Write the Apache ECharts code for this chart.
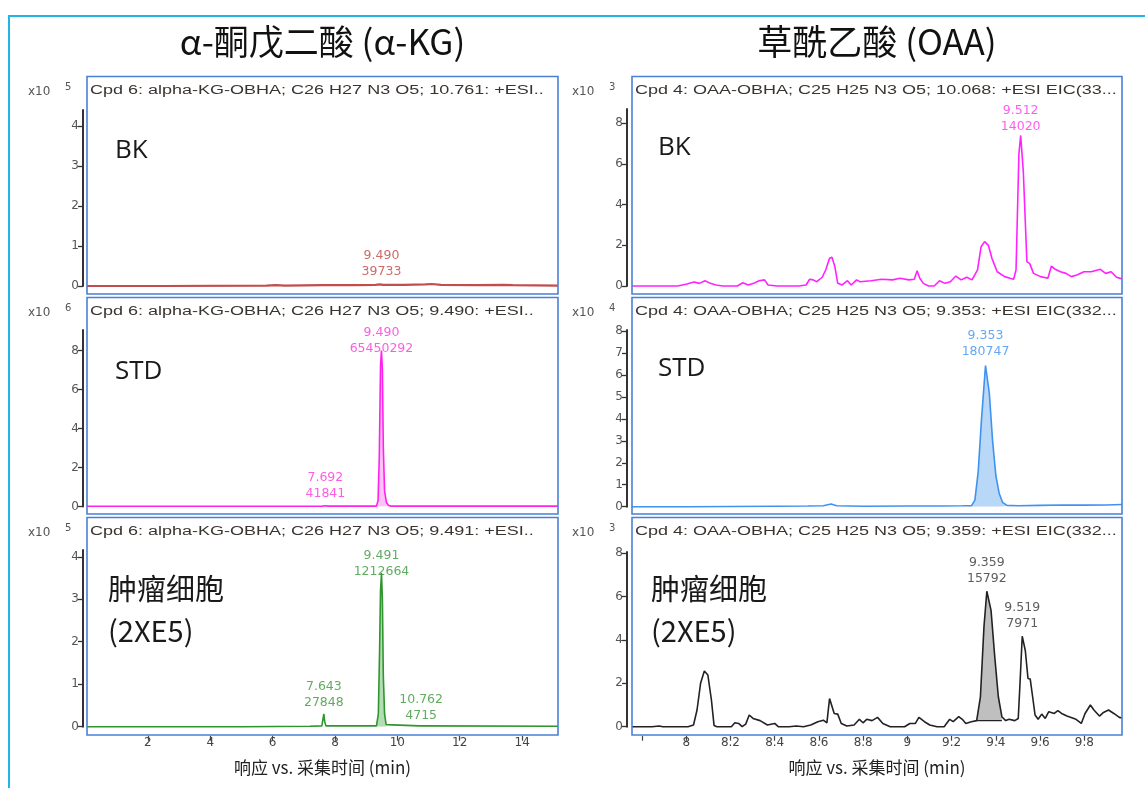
<!DOCTYPE html>
<html>
<head>
<meta charset="utf-8">
<title>α-KG / OAA EIC</title>
<script src="https://cdn.jsdelivr.net/npm/echarts@6/dist/echarts.min.js"></script>
<style>
  html, body { margin: 0; padding: 0; background: #fff; }
  #chart { width: 1145px; height: 788px; }
</style>
</head>
<body>
<div id="chart"></div>
<script>
// ---- data (x = min, y = counts in units of the panel's x10^n) ----
const columnTitles = ['α-酮戊二酸 (α-KG)', '草酰乙酸 (OAA)'];
const xAxisTitle = '响应 vs. 采集时间 (min)';
const sampleTags = ['BK', 'STD', '肿瘤细胞\n(2XE5)'];

const headers = [
  'Cpd 6: alpha-KG-OBHA; C26 H27 N3 O5; 10.761: +ESI..',
  'Cpd 4: OAA-OBHA; C25 H25 N3 O5; 10.068: +ESI EIC(33...',
  'Cpd 6: alpha-KG-OBHA; C26 H27 N3 O5; 9.490: +ESI..',
  'Cpd 4: OAA-OBHA; C25 H25 N3 O5; 9.353: +ESI EIC(332...',
  'Cpd 6: alpha-KG-OBHA; C26 H27 N3 O5; 9.491: +ESI..',
  'Cpd 4: OAA-OBHA; C25 H25 N3 O5; 9.359: +ESI EIC(332...'
];
const exponents = ['5', '3', '6', '4', '5', '3'];

const kgTicksX = [2, 4, 6, 8, 10, 12, 14];
const oaaTicksX = [7.8, 8, 8.2, 8.4, 8.6, 8.8, 9, 9.2, 9.4, 9.6, 9.8];
const oaaLabelsX = [8, 8.2, 8.4, 8.6, 8.8, 9, 9.2, 9.4, 9.6, 9.8];
const kgTicksY1 = [0, 1, 2, 3, 4];
const kgTicksY2 = [0, 2, 4, 6, 8];
const kgTicksY3 = [0, 1, 2, 3, 4];
const oaaTicksY1 = [0, 2, 4, 6, 8];
const oaaTicksY2 = [0, 1, 2, 3, 4, 5, 6, 7, 8];
const oaaTicksY3 = [0, 2, 4, 6, 8];

const kgBK = [[0.05,0],[2.5,0],[5.8,0.01],[6.1,0.02],[6.4,0.01],[7.6,0.02],[8.6,0.02],[9.3,0.03],[9.44,0.04],
  [9.49,0.08],[9.54,0.03],[10.2,0.03],[10.9,0.04],[11.1,0.05],[11.4,0.03],[12.6,0.02],[13.4,0.03],[13.7,0.02],[15.15,0.01]];
const kgSTD = [[0.05,0.01],[4,0.01],[7.6,0.02],[7.692,0.04],[7.78,0.02],[9.33,0.02],[9.38,0.3],[9.42,2.5],[9.46,7.2],
  [9.49,8.0],[9.52,7.0],[9.55,3.0],[9.59,0.8],[9.65,0.2],[9.72,0.05],[9.8,0.02],[15.15,0.02]];
const kgTumor = [[0.05,0],[5,0],[7.2,0.01],[7.58,0.02],[7.62,0.2],[7.643,0.3],[7.67,0.12],[7.71,0.02],[9.33,0.02],
  [9.39,0.3],[9.43,1.8],[9.46,3.2],[9.491,3.62],[9.52,3.0],[9.55,1.2],[9.59,0.3],[9.64,0.05],[10.7,0.02],
  [10.762,0.04],[10.83,0.02],[15.15,0.01]];

const oaaBK = [[7.755,0],[7.962,0],[8.003,0.1],[8.036,0.2],[8.060,0.13],[8.085,0.26],[8.109,0.13],[8.134,0.05],
  [8.166,0],[8.199,0],[8.231,0],[8.256,0.16],[8.280,0.05],[8.305,0.13],[8.329,0.26],[8.354,0.3],[8.370,0.05],
  [8.411,0],[8.460,0],[8.509,0],[8.542,0.05],[8.558,0.33],[8.574,0.3],[8.590,0.21],[8.615,0.43],[8.631,0.8],
  [8.648,1.36],[8.659,1.41],[8.672,0.95],[8.685,0.13],[8.705,0.05],[8.729,0.26],[8.746,0.05],[8.770,0.3],
  [8.786,0.21],[8.835,0.26],[8.884,0.33],[8.933,0.3],[8.966,0.38],[9.007,0.3],[9.031,0.33],[9.044,0.75],
  [9.056,0.38],[9.072,0.13],[9.096,0],[9.121,0],[9.145,0.26],[9.170,0.13],[9.194,0.21],[9.219,0.49],[9.243,0.3],
  [9.268,0.43],[9.292,0.3],[9.317,0.79],[9.333,1.93],[9.349,2.18],[9.366,2.0],[9.382,1.36],[9.406,0.7],
  [9.439,0.46],[9.464,0.38],[9.480,0.33],[9.491,0.79],[9.504,6.5],[9.512,7.4],[9.524,5.6],[9.540,1.2],
  [9.553,1.1],[9.570,0.62],[9.602,0.46],[9.635,0.38],[9.651,0.98],[9.668,0.82],[9.692,0.7],[9.717,0.62],
  [9.741,0.46],[9.766,0.54],[9.798,0.7],[9.831,0.7],[9.872,0.82],[9.896,0.62],[9.921,0.7],[9.945,0.43],[9.970,0.35]];
const oaaSTD = [[7.755,0],[8.0,0],[8.2,0.01],[8.4,0.02],[8.55,0.03],[8.62,0.04],[8.655,0.12],[8.68,0.04],[8.8,0.02],
  [9.0,0.03],[9.15,0.03],[9.25,0.04],[9.29,0.05],[9.305,0.3],[9.32,1.6],[9.335,4.0],[9.353,6.43],[9.37,5.2],
  [9.385,3.0],[9.40,1.4],[9.415,0.6],[9.43,0.2],[9.45,0.06],[9.5,0.04],[9.6,0.06],[9.7,0.08],[9.8,0.07],[9.9,0.08],[9.97,0.1]];
const oaaTumor = [[7.755,0],[7.845,0],[7.878,0.03],[7.894,0],[8.008,0],[8.033,0.08],[8.049,0.77],[8.065,2.0],
  [8.082,2.57],[8.098,2.38],[8.114,1.23],[8.126,0.05],[8.139,0],[8.204,0],[8.220,0.18],[8.237,0.15],[8.253,0],
  [8.269,0.12],[8.285,0.54],[8.302,0.38],[8.334,0.28],[8.367,0.08],[8.400,0.15],[8.416,0],[8.465,0],[8.498,0.03],
  [8.530,0],[8.563,0.08],[8.595,0.23],[8.620,0.3],[8.636,0.18],[8.648,1.3],[8.657,1.3],[8.669,0.61],[8.685,0.58],
  [8.701,0.15],[8.726,0.03],[8.759,0.08],[8.783,0.34],[8.799,0.18],[8.816,0.34],[8.840,0.28],[8.865,0.43],
  [8.889,0.15],[8.922,0],[8.954,0],[8.987,0],[9.011,0.15],[9.036,0.15],[9.052,0.43],[9.077,0.23],[9.101,0.08],
  [9.134,0],[9.166,0],[9.191,0.34],[9.207,0.23],[9.232,0.46],[9.248,0.34],[9.264,0.15],[9.289,0.23],[9.313,0.28],
  [9.330,1.38],[9.346,4.6],[9.359,6.24],[9.378,5.36],[9.395,3.2],[9.411,1.38],[9.427,0.46],[9.444,0.28],
  [9.460,0.34],[9.485,0.28],[9.501,0.38],[9.509,2.0],[9.519,4.17],[9.533,3.5],[9.545,2.22],[9.555,2.2],
  [9.566,1.38],[9.577,0.54],[9.591,0.34],[9.607,0.58],[9.623,0.38],[9.639,0.69],[9.664,0.61],[9.680,0.74],
  [9.697,0.61],[9.721,0.49],[9.762,0.34],[9.786,0.15],[9.803,0.61],[9.827,1.0],[9.843,0.77],[9.868,0.49],
  [9.884,0.64],[9.909,0.77],[9.933,0.61],[9.958,0.43],[9.97,0.4]];

// peaks: [rt, apex, area]
const kgBKPeaks = [[9.490, 0.08, 39733]];
const kgSTDPeaks = [[7.692, 0.04, 41841], [9.490, 8.0, 65450292]];
const kgTumorPeaks = [[7.643, 0.3, 27848], [9.491, 3.62, 1212664], [10.762, 0.04, 4715]];
const oaaBKPeaks = [[9.512, 7.4, 14020]];
const oaaSTDPeaks = [[9.353, 6.43, 180747]];
const oaaTumorPeaks = [[9.359, 6.24, 15792], [9.519, 4.17, 7971]];
// integrated windows [from, to, baseline]
const kgSTDWindow = [9.33, 9.72, 0];
const kgTumorWindow = [9.33, 9.64, 0];
const oaaSTDWindow = [9.29, 9.45, 0];
const oaaTumorWindow = [9.313, 9.427, 0.28];

// ---- layout / style ----
const W = 1145, H = 788;
const cols = [{ l: 87, r: 558, xMin: 0.05, xMax: 15.15 }, { l: 632, r: 1122, xMin: 7.755, xMax: 9.97 }];
const boxes = [[76.5, 294], [297.5, 514], [517.5, 735]];
const panels = [
  { col: 0, row: 0, top: 110, zero: 286, max: 4.4, ticks: kgTicksY1, data: kgBK, peaks: kgBKPeaks, gaps: [3],
    color: '#c24d4d', width: 2.2, label: '#c04545' },
  { col: 1, row: 0, top: 109, zero: 286, max: 8.7, ticks: oaaTicksY1, data: oaaBK, peaks: oaaBKPeaks, gaps: [0],
    color: '#ff22ff', width: 1.6, label: '#ff33ee' },
  { col: 0, row: 1, top: 330, zero: 506.5, max: 9.05, ticks: kgTicksY2, data: kgSTD, peaks: kgSTDPeaks, gaps: [3, -7],
    color: '#ff22ee', width: 1.6, label: '#ff33dd', win: kgSTDWindow, fill: 'rgba(255,120,240,0.45)' },
  { col: 1, row: 1, top: 330, zero: 506.7, max: 8.05, ticks: oaaTicksY2, data: oaaSTD, peaks: oaaSTDPeaks, gaps: [5],
    color: '#3f93f0', width: 1.6, label: '#3d92f2', win: oaaSTDWindow, fill: '#b9d8f7' },
  { col: 0, row: 2, top: 550, zero: 726.7, max: 4.16, ticks: kgTicksY3, data: kgTumor, peaks: kgTumorPeaks, gaps: [3, -7, 1],
    color: '#2f952f', width: 1.6, label: '#3a963a', win: kgTumorWindow, fill: 'rgba(90,180,90,0.45)' },
  { col: 1, row: 2, top: 552, zero: 726.7, max: 8.05, ticks: oaaTicksY3, data: oaaTumor, peaks: oaaTumorPeaks, gaps: [4, 4],
    color: '#222', width: 1.6, label: '#333', win: oaaTumorWindow, fill: '#bfbfbf', baseLine: true }
];

const tickFont = 'DejaVu Sans';
const grids = [], xAxes = [], yAxes = [], series = [], graphics = [];

panels.forEach(function (p, i) {
  const c = cols[p.col];
  const bottomRow = p.row === 2;
  grids.push({ left: c.l, right: W - c.r, top: p.top, bottom: H - p.zero, containLabel: false, outerBoundsMode: 'none' });
  xAxes.push({
    type: 'value', gridIndex: i, min: c.xMin, max: c.xMax, show: bottomRow, offset: 9,
    axisLine: { show: false, onZero: false }, splitLine: { show: false },
    axisTick: { show: true, length: 5, customValues: p.col === 0 ? kgTicksX : oaaTicksX, lineStyle: { color: '#444', width: 1.2 } },
    axisLabel: { customValues: p.col === 0 ? kgTicksX : oaaLabelsX, margin: 1, fontSize: 12, color: '#444', fontFamily: tickFont },
    name: bottomRow ? xAxisTitle : '', nameLocation: 'middle', nameGap: 23,
    nameTextStyle: { fontSize: 17, color: '#222', fontFamily: 'Noto Sans CJK SC' }
  });
  yAxes.push({
    type: 'value', gridIndex: i, min: 0, max: p.max, offset: p.col === 0 ? 4 : 5,
    axisLine: { show: true, onZero: false, lineStyle: { color: '#333', width: 2 } },
    axisTick: { show: true, length: 5, customValues: p.ticks, lineStyle: { color: '#333', width: 1.3 } },
    axisLabel: { customValues: p.ticks, margin: 4, fontSize: 12, color: '#555', fontFamily: tickFont },
    splitLine: { show: false }
  });

  if (p.win) {
    series.push({
      type: 'line', xAxisIndex: i, yAxisIndex: i, symbol: 'none', silent: true, z: 1,
      data: p.data.filter(function (d) { return d[0] >= p.win[0] && d[0] <= p.win[1]; }),
      lineStyle: { width: 0 }, areaStyle: { color: p.fill, opacity: 1, origin: p.win[2] }
    });
  }
  if (p.baseLine) {
    series.push({
      type: 'line', xAxisIndex: i, yAxisIndex: i, symbol: 'none', silent: true, z: 3,
      data: [[p.win[0], p.win[2]], [p.win[1], p.win[2]]], lineStyle: { color: '#222', width: 1.4 }
    });
  }
  series.push({
    type: 'line', xAxisIndex: i, yAxisIndex: i, data: p.data, symbol: 'none', z: 2, clip: false,
    lineStyle: { color: p.color, width: p.width }
  });
  series.push({
    type: 'scatter', xAxisIndex: i, yAxisIndex: i, symbolSize: 1, z: 5, silent: true,
    itemStyle: { color: 'rgba(0,0,0,0)' },
    data: p.peaks.map(function (pk, k) {
      return { value: [pk[0], pk[1]], rt: pk[0], area: pk[2], label: { distance: p.gaps[k] } };
    }),
    label: {
      show: true, position: 'top', color: p.label, fontSize: 12.5, lineHeight: 16, fontFamily: tickFont,
      formatter: function (q) { return q.data.rt.toFixed(3) + '\n' + q.data.area; }
    }
  });

  // panel frame, header, multiplier, sample tag
  const b = boxes[p.row];
  graphics.push({ type: 'rect', shape: { x: c.l, y: b[0], width: c.r - c.l, height: b[1] - b[0] },
    style: { fill: 'none', stroke: '#4a80d8', lineWidth: 1.6 }, z: 10 });
  graphics.push({ type: 'text', x: c.l + 3, y: b[0] + 14.5, scaleX: 1.5,
    style: { text: headers[i], font: '12px "Liberation Sans"', fill: '#3a3430', verticalAlign: 'middle' }, z: 10 });
  const ax = p.col === 0 ? 28 : 572;
  graphics.push({ type: 'text', x: ax, y: b[0] + 15,
    style: { text: 'x10', font: '12px "DejaVu Sans"', fill: '#555', verticalAlign: 'middle' } });
  graphics.push({ type: 'text', x: ax + 37, y: b[0] + 11,
    style: { text: exponents[i], font: '10px "DejaVu Sans"', fill: '#555', verticalAlign: 'middle' } });
  const tag = sampleTags[p.row];
  graphics.push({ type: 'text', x: c.l + (p.row === 2 ? 21 : 28) - p.col * 2, y: p.row === 2 ? 610 : b[0] + 74 - p.col * 3,
    style: { text: tag, font: p.row === 2 ? '29px "Noto Sans CJK SC"' : '26px "Open Sans"', fill: '#1a1a1a',
      verticalAlign: 'middle', lineHeight: 42 } });
});

graphics.push({ type: 'polyline', shape: { points: [[9, H], [9, 16], [W, 16]] },
  style: { fill: 'none', stroke: '#22b4e6', lineWidth: 2 } });
columnTitles.forEach(function (t, k) {
  graphics.push({ type: 'text', x: (cols[k].l + cols[k].r) / 2, y: 42,
    style: { text: t, font: '35px "Noto Sans CJK SC"', fill: '#111', align: 'center', verticalAlign: 'middle' } });
});

const chart = echarts.init(document.getElementById('chart'), null, { renderer: 'canvas' });
chart.setOption({
  animation: false,
  backgroundColor: '#fff',
  grid: grids,
  xAxis: xAxes,
  yAxis: yAxes,
  series: series,
  graphic: graphics
});
</script>
</body>
</html>
